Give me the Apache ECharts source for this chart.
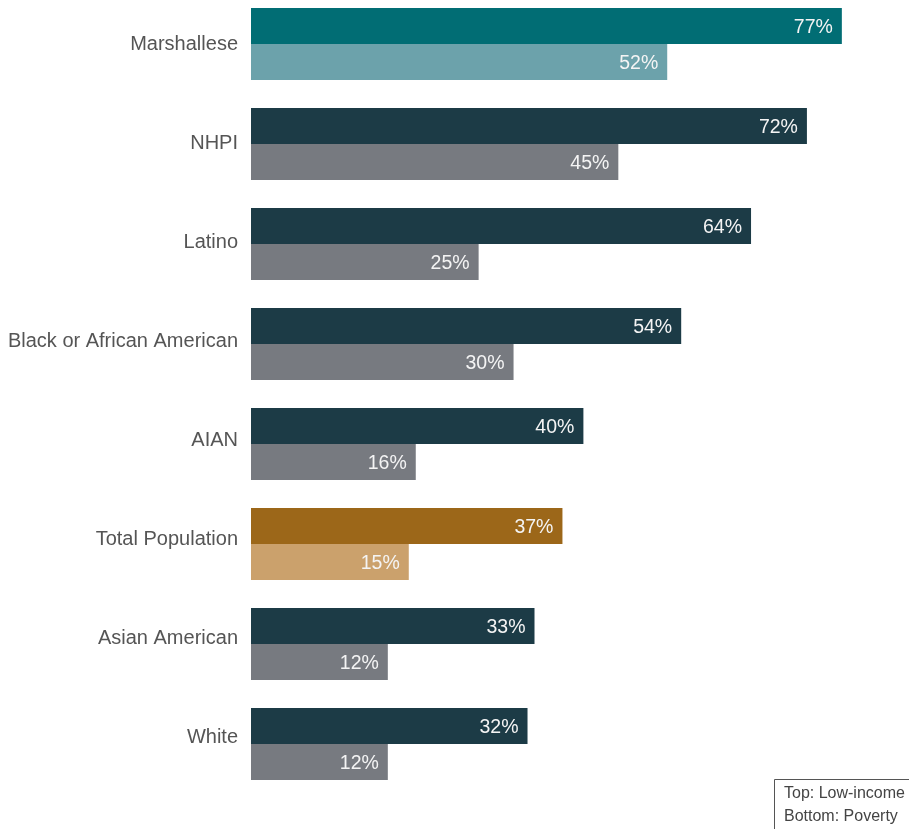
<!DOCTYPE html>
<html>
<head>
<meta charset="utf-8">
<script src="https://cdn.jsdelivr.net/npm/echarts@6/dist/echarts.min.js"></script>
<style>html,body{margin:0;padding:0;background:#fff}#c{width:909px;height:829px}</style>
</head>
<body>
<div id="c"></div>
<script>
const categories = ['Marshallese','NHPI','Latino','Black or African American','AIAN','Total Population','Asian American','White'];
const lowIncome = [77,72,64,54,40,37,33,32];
const poverty = [52,45,25,30,16,15,12,12];
// bars in the original begin a little left of the zero point; this stub segment reproduces that start
const axisStartOffset = [7.588,7.588,7.588,7.588,7.588,7.588,7.588,7.588];

const topColors = ['#016d74','#1c3b46','#1c3b46','#1c3b46','#1c3b46','#9c6719','#1c3b46','#1c3b46'];
const bottomColors = ['#6ca2ab','#777a80','#777a80','#777a80','#777a80','#cba16c','#777a80','#777a80'];

const FONT = 'Liberation Sans, Arial, sans-serif';
const chart = echarts.init(document.getElementById('c'));
const label = {
  show: true, position: 'insideRight', distance: 9, offset: [0, 1.5],
  color: '#f4f4f4', fontSize: 19.5, fontFamily: FONT,
  formatter: p => p.value + '%'
};
const colored = (vals, cols) => vals.map((v, i) => ({value: v, itemStyle: {color: cols[i]}}));
chart.setOption({
  animation: false,
  grid: [
    {left: 251, top: -6, width: 600, height: 800, outerBoundsMode: 'none', containLabel: false},
    {left: 251, top: -5, width: 600, height: 792, outerBoundsMode: 'none', containLabel: false}
  ],
  xAxis: [
    {type: 'value', min: 0, max: 600/6.985, show: false, gridIndex: 0},
    {type: 'value', min: 0, max: 100, show: false, gridIndex: 1}
  ],
  yAxis: [
    {type: 'category', data: categories, inverse: true, gridIndex: 0,
     axisLine: {show: false}, axisTick: {show: false}, axisLabel: {show: false}},
    {type: 'category', data: categories, inverse: true, gridIndex: 1,
     axisLine: {show: false}, axisTick: {show: false}, splitLine: {show: false},
     axisLabel: {color: '#555', fontSize: 20, margin: 13, fontFamily: FONT}}
  ],
  series: [
    {type: 'bar', stack: 'top', data: colored(axisStartOffset, topColors), barWidth: 36, barGap: '0%', silent: true},
    {type: 'bar', stack: 'top', name: 'Low-income', barWidth: 36, barGap: '0%',
     data: colored(lowIncome, topColors), label},
    {type: 'bar', stack: 'bot', data: colored(axisStartOffset, bottomColors), barWidth: 36, barGap: '0%', silent: true},
    {type: 'bar', stack: 'bot', name: 'Poverty', barWidth: 36, barGap: '0%',
     data: colored(poverty, bottomColors), label}
  ],
  graphic: [
    {type: 'rect', shape: {x: 774.5, y: 779.5, width: 140, height: 60}, style: {fill: '#fff', stroke: '#555', lineWidth: 1}},
    {type: 'text', x: 784, y: 786, style: {text: 'Top: Low-income', fill: '#444', fontSize: 16, fontFamily: FONT}},
    {type: 'text', x: 784, y: 809, style: {text: 'Bottom: Poverty', fill: '#444', fontSize: 16, fontFamily: FONT}}
  ]
});
</script>
</body>
</html>
